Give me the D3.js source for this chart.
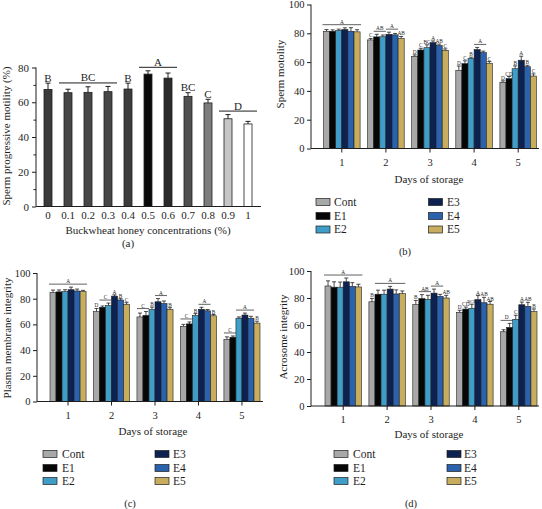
<!DOCTYPE html>
<html><head><meta charset="utf-8">
<script src="https://cdn.jsdelivr.net/npm/d3@7"></script>
<style>
body{margin:0;background:#fff}
svg{display:block}
text{font-family:"Liberation Serif","Times New Roman",serif;fill:#1e1e1e}
</style>
</head><body>
<svg id="c" width="542" height="509"></svg>
<script>
// ---------- data ----------
const concentrations = ["0","0.1","0.2","0.3","0.4","0.5","0.6","0.7","0.8","0.9","1"];
const progMotility    = [67.4,65.5,65.7,66.1,67.6,76.2,73.9,63.4,59.6,50.5,47.5];
const progMotilityErr = [3.6,2.0,3.2,3.0,3.4,1.9,2.9,2.1,2.1,2.4,1.5];
const progLetters = [[0,0,"B"],[1,3,"BC"],[4,4,"B"],[5,6,"A"],[7,7,"BC"],[8,8,"C"],[9,10,"D"]];
const concColors = ["#3a3a3a","#474747","#474747","#474747","#3c3c3c","#0a0a0a","#2a2a2a","#505050","#7c7c7c","#c6c6c6","#ffffff"];

const days = ["1","2","3","4","5"];
const treatments = ["Cont","E1","E2","E3","E4","E5"];
const treatColors = ["#a8a8a8","#060606","#3f9dc8","#0d2250","#2a62ad","#c8ad5e"];

const spermMotility = [
  [81.4,81.4,81.9,82.6,81.4,81.0],
  [75.4,77.5,77.6,79.3,78.9,76.3],
  [64.0,68.4,70.0,73.5,71.5,68.2],
  [54.3,58.9,62.4,68.7,66.6,59.2],
  [46.0,48.5,55.4,61.3,56.8,50.3]];
const spermMotilityErr = [
  [1.2,1.0,1.0,1.2,2.5,1.5],
  [1.0,1.8,1.2,1.5,1.0,1.5],
  [1.0,1.2,2.0,1.2,1.0,1.0],
  [3.0,2.0,1.0,1.5,1.0,1.2],
  [1.0,1.5,2.0,2.8,1.0,1.5]];
const motilityLetters = [
  [0,0,5,"A"],
  [1,0,0,"C"],[1,1,2,"AB"],[1,3,4,"A"],[1,5,5,"AB"],
  [2,0,0,"D"],[2,1,1,"C"],[2,2,2,"BC"],[2,3,3,"A"],[2,4,4,"AB"],[2,5,5,"C"],
  [3,0,0,"D"],[3,1,1,"C"],[3,2,2,"B"],[3,3,4,"A"],[3,5,5,"C"],
  [4,0,0,"D"],[4,1,1,"CD"],[4,2,2,"B"],[4,3,3,"A"],[4,4,4,"B"],[4,5,5,"C"]];

const membraneIntegrity = [
  [84.7,85.3,85.5,87.0,86.0,85.5],
  [69.9,73.3,74.6,82.0,79.0,75.4],
  [65.8,67.0,71.5,77.6,76.2,71.5],
  [58.5,60.4,66.9,71.8,70.6,66.7],
  [48.3,50.0,64.8,67.3,64.8,61.0]];
const membraneIntegrityErr = [
  [2.0,1.5,1.5,2.0,1.5,1.0],
  [2.5,1.0,2.0,1.0,1.0,1.5],
  [3.0,3.0,2.0,2.5,2.0,1.5],
  [1.5,1.5,1.5,1.5,1.0,1.0],
  [2.0,1.0,1.0,1.5,1.5,1.5]];
const membraneLetters = [
  [0,0,5,"A"],
  [1,0,0,"D"],[1,1,2,"C"],[1,3,3,"A"],[1,4,4,"B"],[1,5,5,"C"],
  [2,0,1,"C"],[2,2,2,"B"],[2,3,4,"A"],[2,5,5,"B"],
  [3,0,1,"C"],[3,2,2,"B"],[3,3,4,"A"],[3,5,5,"B"],
  [4,0,1,"C"],[4,2,4,"A"],[4,5,5,"B"]];

const acrosomeIntegrity = [
  [88.9,88.0,88.0,92.0,88.6,88.2],
  [77.2,82.8,82.8,86.6,83.0,83.2],
  [75.2,79.5,79.0,83.6,81.2,80.0],
  [69.4,71.8,72.4,78.8,76.5,75.4],
  [55.0,58.2,64.2,75.0,73.8,69.9]];
const acrosomeIntegrityErr = [
  [3.8,4.0,3.8,2.8,2.8,2.0],
  [2.5,3.0,3.0,2.0,3.0,2.0],
  [3.0,3.0,3.0,3.0,1.5,2.0],
  [1.5,1.5,3.0,3.0,4.0,2.0],
  [1.5,3.0,3.0,2.0,3.0,2.0]];
const acrosomeLetters = [
  [0,0,5,"A"],
  [1,0,0,"B"],[1,1,5,"A"],
  [2,0,0,"B"],[2,1,2,"AB"],[2,3,4,"A"],[2,5,5,"AB"],
  [3,0,0,"D"],[3,1,1,"CD"],[3,2,2,"BCD"],[3,3,3,"A"],[3,4,4,"AB"],[3,5,5,"AB"],
  [4,0,1,"D"],[4,2,2,"C"],[4,3,3,"A"],[4,4,4,"AB"],[4,5,5,"B"]];

// ---------- drawing ----------
const svg = d3.select("#c");
const INK = "#1e1e1e";
const FONT = '"Liberation Serif","Times New Roman",serif';

function txt(g, x, y, s, fs, anchor){
  return g.append("text").attr("x", x).attr("y", y).attr("text-anchor", anchor || "middle")
    .attr("font-size", fs).attr("fill", INK).style("font-family", FONT).text(s);
}

function styleAxis(sel, fs){
  sel.selectAll(".domain").remove();
  sel.selectAll("line").attr("stroke", INK).attr("stroke-width", 1);
  sel.selectAll("text").attr("font-size", fs).attr("fill", INK).style("font-family", FONT);
}

// Panel (a)
(function(){
  const g = svg.append("g");
  const axX = 36, axEnd = 261, y0 = 206.5, y80 = 67.5;
  const y = d3.scaleLinear().domain([0, 80]).range([y0, y80]);
  const x = d3.scaleBand().domain(concentrations).range([44, 252]).paddingInner(0.6).paddingOuter(0);
  g.selectAll("rect.bar").data(concentrations).join("rect")
    .attr("x", d => x(d)).attr("width", x.bandwidth())
    .attr("y", (d,i) => y(progMotility[i])).attr("height", (d,i) => y0 - y(progMotility[i]))
    .attr("fill", (d,i) => concColors[i]).attr("stroke", INK).attr("stroke-width", 0.8);
  concentrations.forEach((d,i) => {
    const cx = x(d) + x.bandwidth()/2, top = y(progMotility[i] + progMotilityErr[i]);
    g.append("line").attr("x1", cx).attr("x2", cx).attr("y1", y(progMotility[i])).attr("y2", top).attr("stroke", INK).attr("stroke-width", 1);
    g.append("line").attr("x1", cx-2.5).attr("x2", cx+2.5).attr("y1", top).attr("y2", top).attr("stroke", INK).attr("stroke-width", 1);
  });
  const ya = g.append("g").attr("transform", `translate(${axX},0)`)
    .call(d3.axisLeft(y).tickValues([0,20,40,60,80]).tickSize(4).tickPadding(3));
  styleAxis(ya, 11);
  const ym = g.append("g").attr("transform", `translate(${axX},0)`)
    .call(d3.axisLeft(y).tickValues([10,30,50,70]).tickSize(2.5).tickFormat(""));
  styleAxis(ym, 10);
  g.append("line").attr("x1", axX).attr("x2", axX).attr("y1", y0).attr("y2", y80).attr("stroke", INK);
  const xa = g.append("g").attr("transform", `translate(0,${y0})`)
    .call(d3.axisBottom(x).tickSize(0).tickPadding(5));
  styleAxis(xa, 11);
  g.append("line").attr("x1", axX).attr("x2", axEnd).attr("y1", y0).attr("y2", y0).attr("stroke", INK);
  progLetters.forEach(([a,b,lab]) => {
    let top = Infinity;
    for (let i=a;i<=b;i++) top = Math.min(top, y(progMotility[i] + progMotilityErr[i]));
    const xl = x(concentrations[a]), xr = x(concentrations[b]) + x.bandwidth();
    if (a === b) {
      txt(g, (xl+xr)/2, top - 1.5, lab, 11);
    } else {
      const ly = top - 3.5;
      g.append("line").attr("x1", xl-5).attr("x2", xr+5).attr("y1", ly).attr("y2", ly).attr("stroke", INK).attr("stroke-width", 1);
      txt(g, (xl+xr)/2, ly - 1.5, lab, 11);
    }
  });
  g.append("text").attr("transform", "translate(10,136) rotate(-90)").attr("text-anchor","middle")
    .attr("font-size", 11).attr("fill", INK).style("font-family", FONT).text("Sperm progressive motility (%)");
  txt(g, 148, 233.5, "Buckwheat honey concentrations (%)", 11);
  txt(g, 128, 247, "(a)", 11);
})();

function groupedPanel(cfg){
  const g = svg.append("g");
  const y = d3.scaleLinear().domain([0, 100]).range([cfg.y0, cfg.y100]);
  const x0 = d3.scaleBand().domain(days).range(cfg.barRange).paddingInner(0.17).paddingOuter(0);
  const x1 = d3.scaleBand().domain(treatments).range([0, x0.bandwidth()]);
  days.forEach((d, di) => {
    const gg = g.append("g").attr("transform", `translate(${x0(d)},0)`);
    treatments.forEach((t, ti) => {
      const v = cfg.values[di][ti], e = cfg.errs[di][ti];
      const cx = x1(t) + x1.bandwidth()/2, top = y(v + e);
      gg.append("line").attr("x1", cx).attr("x2", cx).attr("y1", y(v)).attr("y2", top).attr("stroke", INK).attr("stroke-width", 0.8);
      gg.append("line").attr("x1", cx-2).attr("x2", cx+2).attr("y1", top).attr("y2", top).attr("stroke", INK).attr("stroke-width", 0.8);
      gg.append("rect").attr("x", x1(t)).attr("width", x1.bandwidth())
        .attr("y", y(v)).attr("height", cfg.y0 - y(v))
        .attr("fill", treatColors[ti]).attr("stroke", INK).attr("stroke-width", 0.6);
    });
  });
  cfg.letters.forEach(([di,a,b,lab]) => {
    let top = Infinity;
    for (let i=a;i<=b;i++) top = Math.min(top, y(cfg.values[di][i] + cfg.errs[di][i]));
    const xl = x0(days[di]) + x1(treatments[a]), xr = x0(days[di]) + x1(treatments[b]) + x1.bandwidth();
    const fs = lab.length >= 3 ? 4.6 : 5.3;
    if (a === b) {
      txt(g, (xl+xr)/2, top - 1, lab, fs);
    } else {
      const ly = top - 3;
      g.append("line").attr("x1", xl - (b-a===5?1:0)).attr("x2", xr + (b-a===5?1:0)).attr("y1", ly).attr("y2", ly).attr("stroke", INK).attr("stroke-width", 0.7);
      txt(g, (xl+xr)/2, ly - 1, lab, fs);
    }
  });
  const ya = g.append("g").attr("transform", `translate(${cfg.axX},0)`)
    .call(d3.axisLeft(y).tickValues([0,20,40,60,80,100]).tickSize(4).tickPadding(2.5));
  styleAxis(ya, 10.5);
  g.append("line").attr("x1", cfg.axX).attr("x2", cfg.axX).attr("y1", cfg.y0).attr("y2", cfg.y100).attr("stroke", INK);
  const xa = g.append("g").attr("transform", `translate(0,${cfg.y0})`)
    .call(d3.axisBottom(x0).tickSize(4).tickPadding(6));
  styleAxis(xa, 10.5);
  g.append("line").attr("x1", cfg.axX).attr("x2", cfg.axEnd).attr("y1", cfg.y0).attr("y2", cfg.y0).attr("stroke", INK);
  g.append("text").attr("transform", `translate(${cfg.yTitle[0]},${cfg.yTitle[1]}) rotate(-90)`).attr("text-anchor","middle")
    .attr("font-size", 11).attr("fill", INK).style("font-family", FONT).text(cfg.yLabel);
  txt(g, cfg.xTitle[0], cfg.xTitle[1], "Days of storage", 11);
  treatments.forEach((t, i) => {
    const col = Math.floor(i/3), row = i % 3;
    const ry = cfg.legRows[row];
    g.append("rect").attr("x", cfg.legSw[col]).attr("y", ry - 3.5).attr("width", 14).attr("height", 7)
      .attr("fill", treatColors[i]).attr("stroke", INK).attr("stroke-width", 0.7);
    txt(g, cfg.legTx[col], ry + 3.8, t, 11.5, "start");
  });
  txt(g, cfg.panel[0], cfg.panel[1], cfg.panelLabel, 10.5);
}

groupedPanel({values: spermMotility, errs: spermMotilityErr, letters: motilityLetters,
  axX: 311, axEnd: 539, y0: 148.5, y100: 4.5, barRange: [323.5, 536.5],
  yLabel: "Sperm motolity", yTitle: [284, 74], xTitle: [429, 183],
  legRows: [202, 216, 229.5], legSw: [316, 428.5], legTx: [334, 447],
  panelLabel: "(b)", panel: [405, 255]});

groupedPanel({values: membraneIntegrity, errs: membraneIntegrityErr, letters: membraneLetters,
  axX: 37, axEnd: 263, y0: 401.5, y100: 273, barRange: [50, 260],
  yLabel: "Plasma membrane integrity", yTitle: [11, 338], xTitle: [153, 435],
  legRows: [454, 468, 481], legSw: [43, 155], legTx: [62, 173],
  panelLabel: "(c)", panel: [130, 506.5]});

groupedPanel({values: acrosomeIntegrity, errs: acrosomeIntegrityErr, letters: acrosomeLetters,
  axX: 311, axEnd: 539, y0: 406, y100: 271, barRange: [325, 537],
  yLabel: "Acrosome integrity", yTitle: [287, 337], xTitle: [429, 438],
  legRows: [454, 468, 481], legSw: [334, 447], legTx: [353, 464],
  panelLabel: "(d)", panel: [411, 506.5]});
</script>
</body></html>
